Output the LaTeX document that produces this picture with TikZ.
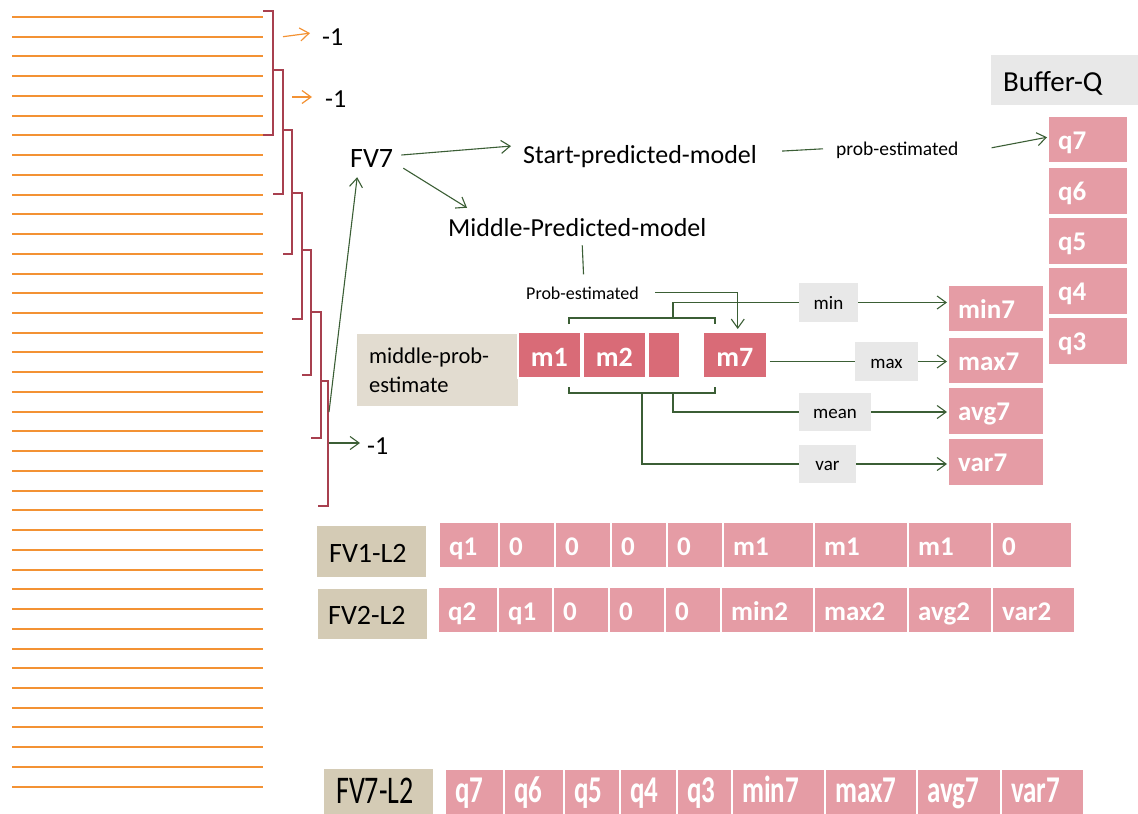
\documentclass[tikz,border=0pt]{standalone}
\usepackage{fontspec}
\setmainfont{Carlito}
\usepackage{graphicx}
\usetikzlibrary{arrows.meta}

\definecolor{cellpink}{HTML}{E59CA5}
\definecolor{mpink}{HTML}{D96B77}
\definecolor{fvbeige}{HTML}{D4CBB5}
\definecolor{mpebeige}{HTML}{E2DCD0}
\definecolor{labgray}{HTML}{E8E8E8}
\definecolor{linegreen}{HTML}{3B5E35}
\definecolor{brkred}{HTML}{A8404F}
\definecolor{rowline}{HTML}{F39234}

\newcommand\setfs[1]{\fontsize{#1pt}{#1pt}\selectfont}

% filled cell with a left-aligned white label: colour, name, x, y, width, height, text
\newcommand\pinkcell[7]{%
  \node[cellbox, fill=#1, minimum width=#5, minimum height=#6] (#2) at (#3,#4) {};
  \node[celltext] (#2-t) at ([xshift=11pt,yshift=-34pt]#2.north west) {#7};}

\begin{document}
\begin{tikzpicture}[x=1pt,y=-1pt,
  conn/.style={draw=linegreen, line width=1.1pt},
  tip/.style={-{Straight Barb[length=9pt,width=13pt]}},
  oline/.style={draw=rowline, line width=2pt},
  oarrow/.style={draw=rowline, line width=1.2pt, -{Straight Barb[length=9pt,width=13pt]}},
  brk/.style={draw=brkred, line width=1.4pt},
  txt/.style={anchor=base west, inner sep=0pt, text=black},
  cellbox/.style={anchor=north west, draw=white, line width=1.5pt, inner sep=0pt},
  celltext/.style={anchor=base west, inner sep=0pt, text=white, font=\bfseries\setfs{27}},
  mtext/.style={anchor=base, inner sep=0pt, text=white, font=\bfseries\setfs{28}},
  glabel/.style={fill=labgray, inner sep=0pt, font=\setfs{19}, text height=13pt, text depth=0pt},
  fvtext/.style={anchor=base west, inner sep=0pt, font=\setfs{28}}]
\useasboundingbox (0,0) rectangle (1138,814);

% ---------- ruled lines on the left ----------
\foreach \i in {0,...,39}
  \draw[oline] (12,{round(17+19.735*\i)}) -- (263,{round(17+19.735*\i)});

% ---------- staggered brackets ----------
\draw[brk] (263,11)  -- (273,11)  -- (273,135) -- (263,135);
\draw[brk] (273,70)  -- (283,70)  -- (283,194) -- (273,194);
\draw[brk] (283,130) -- (292,130) -- (292,254) -- (283,254);
\draw[brk] (292,193) -- (302,193) -- (302,319) -- (292,319);
\draw[brk] (302,250) -- (311,250) -- (311,375) -- (302,375);
\draw[brk] (311,312) -- (321,312) -- (321,438) -- (311,438);
\draw[brk] (321,381) -- (328,381) -- (328,506) -- (318,506);

% ---------- -1 outputs ----------
\node[txt, font=\setfs{26}] (n1) at (322,45) {-1};
\node[txt, font=\setfs{26}] (n2) at (325,107) {-1};
\node[txt, font=\setfs{26}] (n3) at (367,454) {-1};
\coordinate (o1) at (283,36.7);
\coordinate (o2) at (292,97);
\draw[oarrow] (o1) -- ([xshift=-12pt,yshift=3.5pt]n1.west);
\draw[oarrow] (o2) -- ([xshift=-13pt]n2.west |- o2);

% ---------- models ----------
\node[txt, font=\setfs{28}] (fv7) at (350,167) {FV7};
\node[txt, font=\setfs{26}] (start) at (523,163) {Start-predicted-model};
\node[txt, font=\setfs{26}] (mid) at (448,236) {Middle-Predicted-model};
\node[txt, font=\setfs{19.5}] (probt) at (836,155) {prob-estimated};
\node[txt, font=\setfs{18}] (probm) at (526,299) {Prob-estimated};

\coordinate (b7up) at (329,412);
\coordinate (b7mid) at (329,443);
\draw[conn,tip] (b7up) -- ([xshift=-14.5pt,yshift=-10pt]fv7.south);
\draw[conn,tip] (b7mid) -- ([xshift=-7pt]n3.west |- b7mid);
\draw[conn,tip] ([xshift=8pt,yshift=3pt]fv7.east) -- ([xshift=-12pt,yshift=10pt]start.west);
\draw[conn,tip] ([xshift=10pt,yshift=-1pt]fv7.south east) -- ([xshift=19pt,yshift=10pt]mid.north west);
\draw[conn] ([xshift=5pt,yshift=-9pt]mid.south) -- ([xshift=1pt,yshift=12pt]probm.north);

% ---------- Buffer-Q ----------
\node[cellbox, fill=labgray, draw=none, minimum width=150, minimum height=50] (bufbox) at (990,54) {};
\node[txt, font=\setfs{29}] (bufq) at (1003,91) {Buffer-Q};
\pinkcell{cellpink}{q7}{1047}{115}{80}{47}{q7}
\pinkcell{cellpink}{q6}{1047}{166}{80}{48}{q6}
\pinkcell{cellpink}{q5}{1047}{216}{80}{48}{q5}
\pinkcell{cellpink}{q4}{1047}{266}{80}{48}{q4}
\pinkcell{cellpink}{q3}{1047}{316}{80}{48}{q3}

\draw[conn] ([xshift=25pt,yshift=5pt]start.east) -- ([xshift=-13pt,yshift=1pt]probt.west);
\draw[conn,tip] ([xshift=33pt,yshift=2pt]probt.east) -- ([yshift=2pt]q7.west);

% ---------- middle estimates ----------
\node[cellbox, fill=mpebeige, draw=none, minimum width=161, minimum height=72] (mpebox) at (356,333) {};
\node[txt, font=\setfs{22.5}] (mpe1) at (369,363) {middle-prob-};
\node[txt, font=\setfs{22.5}] (mpe2) at (369,392) {estimate};

\node[cellbox, fill=mpink, minimum width=63, minimum height=46] (m1) at (517,331) {};
\node[mtext] (m1-t) at ([yshift=-12pt]m1.center) {m1};
\node[cellbox, fill=mpink, minimum width=63, minimum height=46] (m2) at (582,331) {};
\node[mtext] (m2-t) at ([yshift=-12pt]m2.center) {m2};
\node[cellbox, fill=mpink, minimum width=32, minimum height=46] (mdots) at (647,331) {};
\node[cellbox, fill=mpink, minimum width=64, minimum height=46] (m7) at (702,331) {};
\node[mtext] (m7-t) at ([yshift=-12pt]m7.center) {m7};

\draw[conn,tip] ([xshift=16pt]probm.east) -| ([xshift=3pt,yshift=2pt]m7.north);

% brackets over and under the m cells
\draw[conn] (569,324) -- (569,318) -- (715,318) -- (715,324);
\draw[conn] (569,387) -- (569,393) -- (715,393) -- (715,387);
\coordinate (tbr) at (673,318);
\coordinate (bbr1) at (673,393);
\coordinate (bbr2) at (642,393);

% statistics
\node[glabel, minimum width=59, minimum height=39] (lmin) at (828.5,302.5) {min};
\node[glabel, minimum width=63, minimum height=39] (lmax) at (886.5,361.5) {max};
\node[glabel, minimum width=72, minimum height=38] (lmean) at (835,412) {mean};
\node[glabel, minimum width=57, minimum height=38] (lvar) at (827.5,464) {var};

\pinkcell{cellpink}{min7}{947}{284}{96}{47}{min7}
\pinkcell{cellpink}{max7}{947}{336}{96}{47}{max7}
\pinkcell{cellpink}{avg7}{947}{386}{96}{48}{avg7}
\pinkcell{cellpink}{var7}{947}{437}{96}{48}{var7}

\draw[conn] (tbr) |- (lmin.west);
\draw[conn,tip] (lmin.east) -- (lmin.east -| min7.west);
\draw[conn] ([xshift=2pt]m7.east |- lmax.west) -- (lmax.west);
\draw[conn,tip] (lmax.east) -- (lmax.east -| max7.west);
\draw[conn] (bbr1) |- (lmean.west);
\draw[conn,tip] (lmean.east) -- (lmean.east -| avg7.west);
\draw[conn] (bbr2) |- (lvar.west);
\draw[conn,tip] (lvar.east) -- (lvar.east -| var7.west);

% ---------- feature vectors ----------
\node[cellbox, fill=fvbeige, draw=none, minimum width=109, minimum height=51] (fv1box) at (316,525) {};
\node[fvtext] (fv1lbl) at ([xshift=13pt,yshift=-37pt]fv1box.north west) {FV1-L2};
\pinkcell{cellpink}{r1c1}{438}{521}{60}{46}{q1}
\pinkcell{cellpink}{r1c2}{498}{521}{56}{46}{0}
\pinkcell{cellpink}{r1c3}{554}{521}{56}{46}{0}
\pinkcell{cellpink}{r1c4}{610}{521}{56}{46}{0}
\pinkcell{cellpink}{r1c5}{666}{521}{56}{46}{0}
\pinkcell{cellpink}{r1c6}{722}{521}{91}{46}{m1}
\pinkcell{cellpink}{r1c7}{813}{521}{94}{46}{m1}
\pinkcell{cellpink}{r1c8}{907}{521}{84}{46}{m1}
\pinkcell{cellpink}{r1c9}{991}{521}{80}{46}{0}

\node[cellbox, fill=fvbeige, draw=none, minimum width=109, minimum height=50] (fv2box) at (317,588) {};
\node[fvtext] (fv2lbl) at ([xshift=11pt,yshift=-36pt]fv2box.north west) {FV2-L2};
\pinkcell{cellpink}{r2c1}{437}{586}{60}{46}{q2}
\pinkcell{cellpink}{r2c2}{497}{586}{55}{46}{q1}
\pinkcell{cellpink}{r2c3}{552}{586}{56}{46}{0}
\pinkcell{cellpink}{r2c4}{608}{586}{56}{46}{0}
\pinkcell{cellpink}{r2c5}{664}{586}{56}{46}{0}
\pinkcell{cellpink}{r2c6}{720}{586}{93}{46}{min2}
\pinkcell{cellpink}{r2c7}{813}{586}{94}{46}{max2}
\pinkcell{cellpink}{r2c8}{907}{586}{84}{46}{avg2}
\pinkcell{cellpink}{r2c9}{991}{586}{83}{46}{var2}

\node[cellbox, fill=fvbeige, draw=none, minimum width=109, minimum height=52] (fv7box) at (323,768) {};
\node[fvtext] (fv7lbl) at ([xshift=13pt,yshift=-35pt]fv7box.north west) {\scalebox{1}[1.4]{FV7-L2}};
\pinkcell{cellpink}{r7c1}{444}{768}{59}{52}{\scalebox{1}[1.4]{q7}}
\pinkcell{cellpink}{r7c2}{503}{768}{60}{52}{\scalebox{1}[1.4]{q6}}
\pinkcell{cellpink}{r7c3}{563}{768}{56}{52}{\scalebox{1}[1.4]{q5}}
\pinkcell{cellpink}{r7c4}{619}{768}{57}{52}{\scalebox{1}[1.4]{q4}}
\pinkcell{cellpink}{r7c5}{676}{768}{55}{52}{\scalebox{1}[1.4]{q3}}
\pinkcell{cellpink}{r7c6}{731}{768}{93}{52}{\scalebox{1}[1.4]{min7}}
\pinkcell{cellpink}{r7c7}{824}{768}{92}{52}{\scalebox{1}[1.4]{max7}}
\pinkcell{cellpink}{r7c8}{916}{768}{84}{52}{\scalebox{1}[1.4]{avg7}}
\pinkcell{cellpink}{r7c9}{1000}{768}{83}{52}{\scalebox{1}[1.4]{var7}}
\end{tikzpicture}
\end{document}
